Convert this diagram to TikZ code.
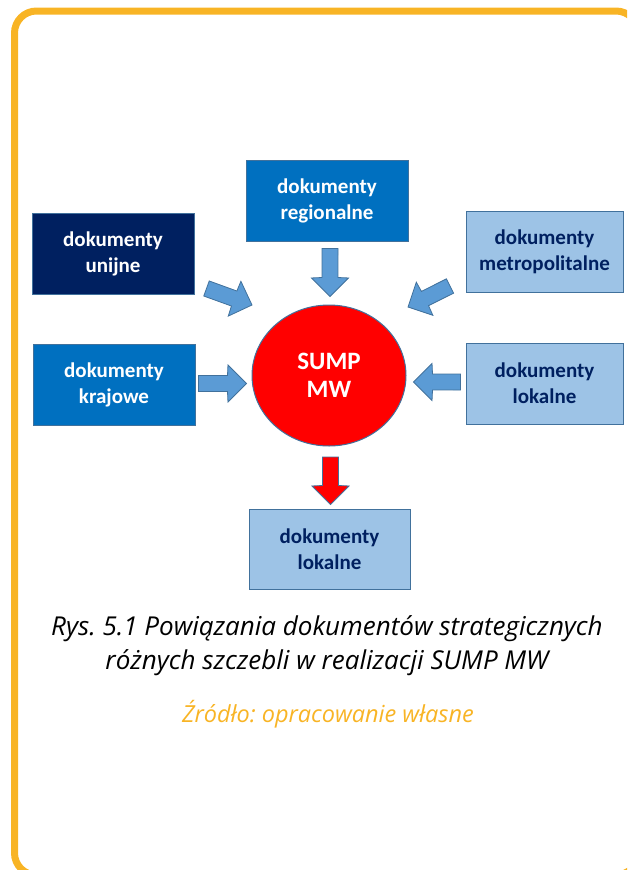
\documentclass[tikz,border=0pt]{standalone}
\usepackage{fontspec}
\usepackage{tikz}
\usetikzlibrary{calc,shapes.geometric}
\newfontfamily\boxfont{Carlito}
\newfontfamily\capfont{Open Sans}
\definecolor{frameorange}{HTML}{F8B425}
\definecolor{navyblue}{HTML}{002060}
\definecolor{midblue}{HTML}{0070C0}
\definecolor{paleblue}{HTML}{9DC3E6}
\definecolor{arrowblue}{HTML}{5B9BD5}
\definecolor{edgeblue}{HTML}{41719C}
\frenchspacing
\begin{document}
\begin{tikzpicture}[x=1pt,y=-1pt,
  doc/.style={draw=edgeblue, line width=1pt, minimum width=162pt, minimum height=81pt, inner sep=0pt, align=center, font=\boxfont\bfseries\fontsize{21}{26}\selectfont},
  dark/.style={doc, fill=#1, text=white},
  light/.style={doc, fill=paleblue, text=navyblue},
  fat arrow/.style={draw=edgeblue, line width=0.8pt, fill=#1, to path={
    ($(\tikztostart)!8pt!90:(\tikztotarget)$)
    -- ($(\tikztotarget)!20.6pt!-22.8:(\tikztostart)$)
    -- ($(\tikztotarget)!26.2pt!-45:(\tikztostart)$)
    -- (\tikztotarget)
    -- ($(\tikztotarget)!26.2pt!45:(\tikztostart)$)
    -- ($(\tikztotarget)!20.6pt!22.8:(\tikztostart)$)
    -- ($(\tikztostart)!8pt!-90:(\tikztotarget)$) -- cycle}}]

\useasboundingbox (0,0) rectangle (627,870);
\clip (0,0) rectangle (627,870);
\draw [frameorange, line width=7pt, rounded corners=22pt] (14.5,11) rectangle (638,875);

\node [dark=navyblue] (unijne) at (113,253.5) {dokumenty\\unijne};
\node [dark=midblue] (regionalne) at (327,200.5) {dokumenty\\regionalne};
\node [light, minimum width=157pt] (metropolitalne) at (544.5,251.5) {dokumenty\\metropolitalne};
\node [dark=midblue] (krajowe) at (114,385) {dokumenty\\krajowe};
\node [light, minimum width=157pt] (lokalne) at (544.5,383.5) {dokumenty\\lokalne};
\node [light, minimum width=161pt, minimum height=80pt] (lokalneB) at (329.5,549) {dokumenty\\lokalne};

\node [ellipse, draw=edgeblue, line width=1pt, fill=red, minimum width=154pt, minimum height=141pt, inner sep=0pt, text=white, align=center, font=\boxfont\bfseries\fontsize{25}{28}\selectfont] (sump) at (329,375.5) {SUMP\\MW};

\draw [fat arrow=arrowblue] ($(regionalne.south)+(3,7)$) to ($(sump.north)+(1,-8)$);
\draw [fat arrow=arrowblue] ($(krajowe.east)+(3,-1.5)$) to ($(sump.west)+(-5,8)$);
\draw [fat arrow=arrowblue] ($(lokalne.west)+(-5,-1.5)$) to ($(sump.east)+(7,6.5)$);
\draw [fat arrow=arrowblue] ($(unijne.south east)+(12,-6)$) to ($(sump.center)+(-77,-70.5)$);
\draw [fat arrow=arrowblue] ($(metropolitalne.south west)+(-15.5,-6.5)$) to ($(sump.center)+(79,-68.5)$);
\draw [fat arrow=red] ($(sump.south)+(1.5,10.5)$) to ($(lokalneB.north)+(1,-4)$);

\node [font=\capfont\itshape\fontsize{26}{34.3}\selectfont, align=center] (caption) at (327,646) {Rys. 5.1 Powiązania dokumentów strategicznych\\różnych szczebli w realizacji SUMP MW};
\node [font=\capfont\itshape\fontsize{23.5}{26}\selectfont, text=frameorange] (source) at (328,714) {Źródło: opracowanie własne};

\end{tikzpicture}
\end{document}
